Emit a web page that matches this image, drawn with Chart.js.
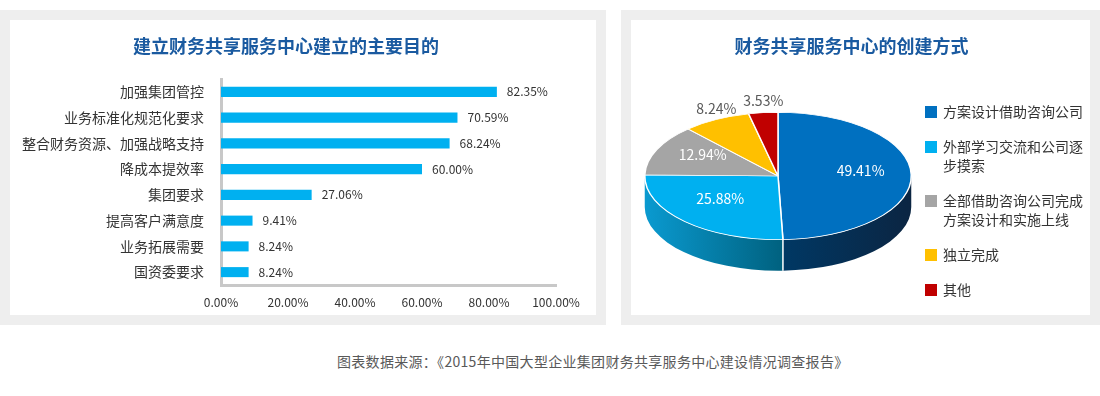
<!DOCTYPE html>
<html lang="zh-CN">
<head>
<meta charset="utf-8">
<title>财务共享服务中心调查</title>
<script src="https://cdn.jsdelivr.net/npm/chart.js@4.4.0/dist/chart.umd.min.js"></script>
<style>
  body { margin: 0; width: 1100px; height: 396px; background: #fff; position: relative; overflow: hidden;
         font-family: 'Noto Sans CJK SC', sans-serif; }
  .panel { position: absolute; top: 10px; height: 295px; background: #fff; border: 10px solid #eeeeee; }
  #leftPanel { left: 0; width: 586px; }
  #rightPanel { left: 621px; width: 459px; }
  .box { position: absolute; left: 0; top: 0; width: 100%; height: 100%; }
  .title { position: absolute; top: 14px; left: 0; text-align: center; font-size: 18px; font-weight: bold;
           color: #1a5aa0; line-height: 22px; white-space: nowrap; }
  #leftTitle { width: 552px; }
  #rightTitle { width: 441px; }
  #legend { position: absolute; left: 294px; top: 82px; }
  .item { display: flex; align-items: flex-start; margin-bottom: 16px; }
  .swatch { width: 12px; height: 12px; margin-top: 4px; margin-right: 6px; flex: none; }
  .item span { width: 143px; font-size: 14px; line-height: 19px; color: #333; }
  #source { position: absolute; left: 337px; top: 351px; font-size: 14px; line-height: 20px; color: #595959;
            white-space: nowrap; letter-spacing: 0.3px; }
</style>
</head>
<body>
<div class="panel" id="leftPanel">
  <div class="box"><canvas id="barChart"></canvas></div>
  <div class="title" id="leftTitle">建立财务共享服务中心建立的主要目的</div>
</div>
<div class="panel" id="rightPanel">
  <div class="box"><canvas id="pieChart"></canvas></div>
  <div class="title" id="rightTitle">财务共享服务中心的创建方式</div>
  <div id="legend"></div>
</div>
<div id="source">图表数据来源：《2015年中国大型企业集团财务共享服务中心建设情况调查报告》</div>

<script>
// data
const purposeLabels = ['加强集团管控', '业务标准化规范化要求', '整合财务资源、加强战略支持', '降成本提效率',
                       '集团要求', '提高客户满意度', '业务拓展需要', '国资委要求'];
const purposeValues = [82.35, 70.59, 68.24, 60.00, 27.06, 9.41, 8.24, 8.24];
const xTicks = [0, 20, 40, 60, 80, 100];

const modeLabels = ['方案设计借助咨询公司', '外部学习交流和公司逐步摸索', '全部借助咨询公司完成方案设计和实施上线', '独立完成', '其他'];
const modeValues = [49.41, 25.88, 12.94, 8.24, 3.53];
const modeColors = ['#0070c0', '#00b0f0', '#a5a5a5', '#ffc000', '#c00000'];
// side shades of the 3D pie: [colour at start angle, colour at end angle]
const sideShades = [['#0b2542', '#003864'], ['#00617f', '#0a9ad0'], ['#6e6e6e', '#8a8a8a'],
                    ['#a07800', '#c89a00'], ['#7a0000', '#990000']];

Chart.defaults.font.family = "'Noto Sans CJK SC', sans-serif";
Chart.defaults.color = '#333';

const pct = v => Number(v).toFixed(2) + '%';

// value labels to the right of each bar
const barLabels = {
    id: 'barLabels',
    afterDatasetsDraw(chart) {
        const ctx = chart.ctx;
        ctx.save();
        ctx.font = "12px 'Noto Sans CJK SC'";
        ctx.fillStyle = '#333';
        ctx.textBaseline = 'middle';
        chart.getDatasetMeta(0).data.forEach((bar, i) => {
            ctx.fillText(pct(purposeValues[i]), bar.x + 10, bar.y);
        });
        ctx.restore();
    }
};

new Chart(document.getElementById('barChart'), {
    type: 'bar',
    data: {
        labels: purposeLabels,
        datasets: [{
            data: purposeValues,
            backgroundColor: '#00b0f0',
            barPercentage: 0.39,
            categoryPercentage: 1
        }]
    },
    options: {
        indexAxis: 'y',
        responsive: true,
        maintainAspectRatio: false,
        animation: false,
        layout: { padding: { top: 59, right: 40, left: 10, bottom: 0 } },
        plugins: { legend: { display: false }, tooltip: { enabled: false } },
        scales: {
            x: {
                min: 0,
                max: 100,
                afterBuildTicks: (s) => { s.ticks = xTicks.map(v => ({ value: v })); },
                afterFit: (s) => { s.height = 30; },
                grid: { display: false, drawTicks: false },
                border: { display: true, color: '#c8c8c8', width: 3 },
                ticks: { callback: pct, color: '#333', font: { size: 12 }, padding: 10, maxRotation: 0 }
            },
            y: {
                afterFit: (s) => { s.width = 201; },
                grid: { display: false, drawTicks: false },
                border: { display: true, color: '#c8c8c8', width: 3 },
                ticks: { color: '#333', font: { size: 14 }, padding: 17, autoSkip: false }
            }
        }
    },
    plugins: [barLabels]
});

// squash the pie into a tilted disc with a front wall, then label it
const PIE_TILT = 0.478;
const PIE_DEPTH = 31;

const tiltedPie = {
    id: 'tiltedPie',
    beforeDatasetsDraw(chart) {
        const ctx = chart.ctx;
        const arcs = chart.getDatasetMeta(0).data;
        const { x: cx, y: cy, outerRadius: r } = arcs[0].getProps(['x', 'y', 'outerRadius']);
        const ry = r * PIE_TILT;

        // front wall, only the part between 0 and PI faces us
        arcs.forEach((arc, i) => {
            const a0 = Math.max(arc.startAngle, 0);
            const a1 = Math.min(arc.endAngle, Math.PI);
            if (a1 <= a0) return;
            const g = ctx.createLinearGradient(cx + r * Math.cos(a0), 0, cx + r * Math.cos(a1), 0);
            g.addColorStop(0, sideShades[i][0]);
            g.addColorStop(1, sideShades[i][1]);
            ctx.beginPath();
            ctx.ellipse(cx, cy, r, ry, 0, a0, a1, false);
            ctx.ellipse(cx, cy + PIE_DEPTH, r, ry, 0, a1, a0, true);
            ctx.closePath();
            ctx.fillStyle = g;
            ctx.fill();
        });
        // white seams where slices meet on the wall
        ctx.save();
        ctx.strokeStyle = '#fff';
        ctx.lineWidth = 1.5;
        arcs.forEach((arc) => {
            const a = arc.endAngle;
            if (a > 0 && a < Math.PI) {
                const x = cx + r * Math.cos(a), y = cy + ry * Math.sin(a);
                ctx.beginPath();
                ctx.moveTo(x, y);
                ctx.lineTo(x, y + PIE_DEPTH);
                ctx.stroke();
            }
        });
        ctx.restore();

        ctx.save();
        ctx.translate(cx, cy);
        ctx.scale(1, PIE_TILT);
        ctx.translate(-cx, -cy);
    },
    afterDatasetsDraw(chart) {
        const ctx = chart.ctx;
        ctx.restore();
        const arcs = chart.getDatasetMeta(0).data;
        const { x: cx, y: cy, outerRadius: r } = arcs[0].getProps(['x', 'y', 'outerRadius']);
        const ry = r * PIE_TILT;
        ctx.save();
        ctx.font = "14px 'Noto Sans CJK SC'";
        ctx.textAlign = 'center';
        ctx.textBaseline = 'middle';
        arcs.forEach((arc, i) => {
            const mid = (arc.startAngle + arc.endAngle) / 2;
            const inside = modeValues[i] >= 10;
            const f = inside ? 0.62 : 1;
            const x = cx + Math.cos(mid) * r * f;
            const y = cy + Math.sin(mid) * ry * f + (inside ? -5 : Math.sin(mid) * 12);
            ctx.fillStyle = inside ? '#fff' : '#595959';
            ctx.fillText(pct(modeValues[i]), x, y);
        });
        ctx.restore();
    }
};

new Chart(document.getElementById('pieChart'), {
    type: 'pie',
    data: {
        labels: modeLabels,
        datasets: [{
            data: modeValues,
            backgroundColor: modeColors,
            borderColor: '#fff',
            borderWidth: 1.5
        }]
    },
    options: {
        responsive: true,
        maintainAspectRatio: false,
        animation: false,
        layout: { padding: { left: 13, right: 178, top: 22, bottom: 5 } },
        plugins: { legend: { display: false }, tooltip: { enabled: false } }
    },
    plugins: [tiltedPie]
});

// legend on the right, wrapped like the original
const legend = document.getElementById('legend');
modeLabels.forEach((name, i) => {
    const item = document.createElement('div');
    item.className = 'item';
    const sw = document.createElement('div');
    sw.className = 'swatch';
    sw.style.background = modeColors[i];
    const txt = document.createElement('span');
    txt.textContent = name;
    item.appendChild(sw);
    item.appendChild(txt);
    legend.appendChild(item);
});
</script>
</body>
</html>
